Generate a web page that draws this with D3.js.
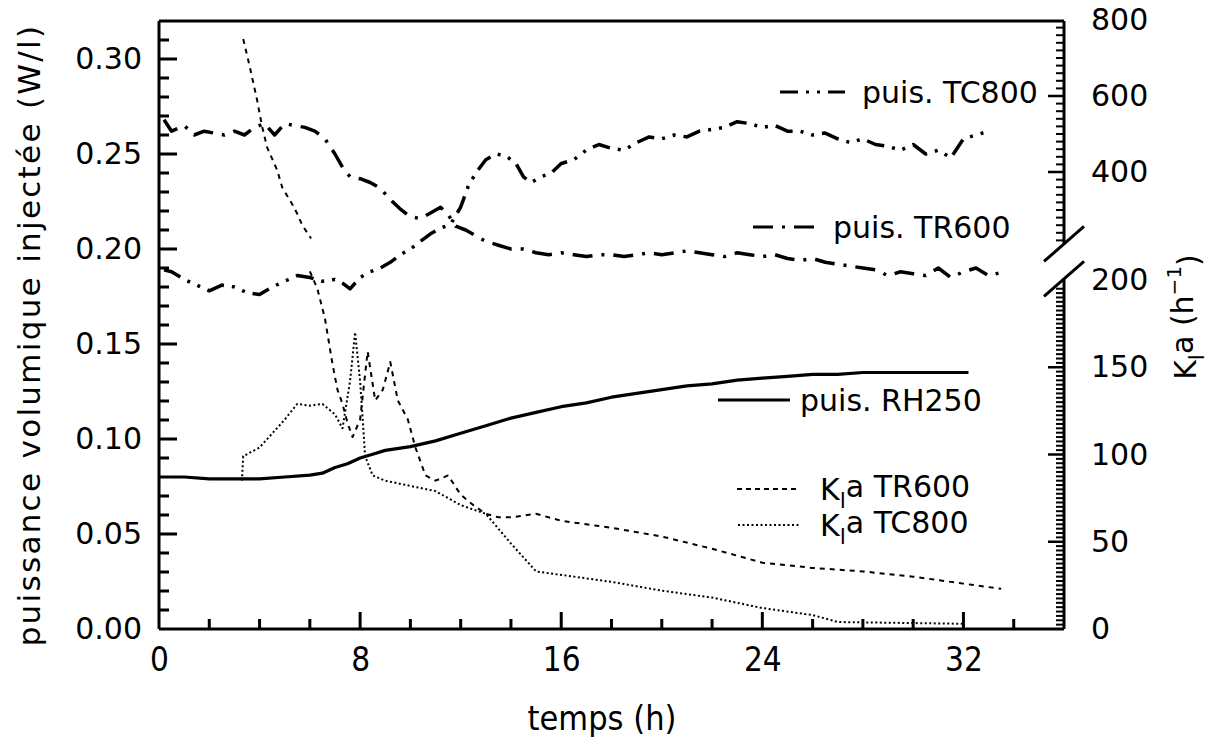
<!DOCTYPE html>
<html><head><meta charset="utf-8">
<script src="https://cdn.jsdelivr.net/npm/d3@7"></script>
<style>
html,body{margin:0;padding:0;background:#fff;}
svg text{font-family:"DejaVu Sans",sans-serif;fill:#000;}
</style></head>
<body><svg id="c" width="1214" height="744" xmlns="http://www.w3.org/2000/svg"></svg>
<script>
// ---------- data ----------
const xTicksMajor = [0, 8, 16, 24, 32];
const leftTicks = [0, 0.05, 0.10, 0.15, 0.20, 0.25, 0.30];
const rightTicksLow = [0, 50, 100, 150, 200];
const rightTicksHigh = [400, 600, 800];

// puissance volumique (W/l) vs temps (h)
const tTR600 = [0.2,0.5,1.0,1.4,1.8,2.2,2.6,3.0,3.4,3.8,4.2,4.6,5.0,5.4,5.8,6.2,6.6,7.0,7.3,7.6,8.0,8.4,8.8,9.2,9.6,10.0,10.4,10.8,11.2,11.5,11.8,12.2,12.6,13.0,13.5,14.0,14.5,15.0,15.5,16.0,16.5,17.0,17.5,18.0,18.5,19.0,19.5,20,20.5,21,21.5,22,22.5,23,23.5,24,24.5,25,25.5,26,26.5,27,27.5,28,28.5,29,29.5,30,30.5,31,31.5,32,32.5,33,33.6];
const pTR600 = [0.268,0.262,0.265,0.260,0.262,0.261,0.260,0.262,0.260,0.264,0.266,0.260,0.266,0.265,0.264,0.262,0.258,0.250,0.243,0.238,0.237,0.235,0.232,0.226,0.221,0.217,0.216,0.219,0.222,0.218,0.212,0.210,0.207,0.204,0.202,0.200,0.200,0.198,0.197,0.198,0.197,0.196,0.197,0.197,0.196,0.197,0.198,0.197,0.198,0.199,0.198,0.197,0.196,0.198,0.197,0.196,0.197,0.195,0.194,0.195,0.193,0.192,0.191,0.190,0.189,0.186,0.188,0.187,0.186,0.190,0.185,0.188,0.190,0.186,0.188];

const tTC800 = [0.2,0.5,1.0,1.5,2.0,2.5,3.0,3.5,4.0,4.5,5.0,5.5,6.0,6.5,7.0,7.3,7.6,8.0,8.4,8.8,9.2,9.6,10.0,10.4,10.8,11.2,11.6,12.0,12.3,12.6,13.0,13.4,13.8,14.2,14.5,14.8,15.2,15.6,16.0,16.5,17.0,17.5,18.0,18.5,19.0,19.5,20,20.5,21,21.5,22,22.5,23,23.5,24,24.5,25,25.5,26,26.5,27,27.5,28,28.5,29,29.5,30,30.5,31,31.5,32,32.5,33];
const pTC800 = [0.189,0.188,0.184,0.181,0.178,0.181,0.180,0.177,0.176,0.180,0.183,0.186,0.185,0.183,0.184,0.182,0.179,0.185,0.188,0.190,0.193,0.197,0.200,0.204,0.208,0.211,0.213,0.222,0.233,0.240,0.247,0.250,0.249,0.245,0.238,0.235,0.238,0.240,0.245,0.247,0.252,0.255,0.253,0.252,0.256,0.259,0.258,0.260,0.259,0.262,0.263,0.264,0.267,0.266,0.264,0.265,0.262,0.262,0.260,0.261,0.258,0.256,0.258,0.255,0.254,0.252,0.255,0.250,0.252,0.248,0.258,0.260,0.262];

const tRH250 = [0.4,1,2,3,4,5,6,6.5,7,7.5,8,8.5,9,10,11,12,13,14,15,16,17,18,19,20,21,22,23,24,25,26,27,28,29,30,31,32.2];
const pRH250 = [0.080,0.080,0.079,0.079,0.079,0.080,0.081,0.082,0.085,0.087,0.090,0.092,0.094,0.096,0.099,0.103,0.107,0.111,0.114,0.117,0.119,0.122,0.124,0.126,0.128,0.129,0.131,0.132,0.133,0.134,0.134,0.135,0.135,0.135,0.135,0.135];

// KLa (h-1) vs temps (h)
const tKlaTR600high = [3.35,3.6,3.9,4.1,4.3,4.7,4.9,5.3,5.5,5.7,6.05];
const kKlaTR600high = [750,680,590,520,465,405,360,315,290,260,225];
const tKlaTR600 = [6.0,6.3,6.6,6.9,7.1,7.3,7.5,7.7,8.0,8.3,8.6,8.9,9.2,9.5,9.9,10.2,10.6,11.0,11.5,12,12.5,13,13.5,14,15,16,18,20,22,24,26,28,30,32,33.5];
const kKlaTR600 = [205,195,178,152,137,129,118,110,120,159,131,137,153,131,120,104,88,85,88,77,71,66,64,64,66,62,58,53,46,38,35,33,30,26,23];
const tKlaTC800 = [3.3,3.35,4,5,5.5,6,6.5,7,7.3,7.6,7.8,8,8.2,8.5,9,10,11,12,13,14,15,16,18,20,22,24,26,27,32];
const kKlaTC800 = [85,99,104,120,129,128,129,123,115,142,170,142,99,88,85,82,79,71,66,49,33,31,27,22,18,12,8,4,3];

// ---------- drawing ----------
const svg = d3.select("#c");
const X0 = 159, X1 = 1064, Y0 = 629, Y1 = 21;
const x = d3.scaleLinear().domain([0, 36]).range([X0, X1]);
const yL = d3.scaleLinear().domain([0, 0.32]).range([Y0, Y1]);
const yR = d3.scaleLinear().domain([0, 200]).range([Y0, 280]);
const yU = d3.scaleLinear().domain([400, 800]).range([172, 20]);
const FS = 30;

function seg(x1, y1, x2, y2, w) {
  return svg.append("line").attr("x1", x1).attr("y1", y1).attr("x2", x2).attr("y2", y2)
    .attr("stroke", "#000").attr("stroke-width", w);
}
// tick marks as rect bars (filled), positioned by the scales
function bars(list, color) {
  svg.append("g").selectAll("rect").data(list).enter().append("rect")
    .attr("x", d => Math.min(d[0], d[2]) - (d[0] === d[2] ? d[4] / 2 : 0))
    .attr("y", d => Math.min(d[1], d[3]) - (d[1] === d[3] ? d[4] / 2 : 0))
    .attr("width", d => d[0] === d[2] ? d[4] : Math.abs(d[2] - d[0]))
    .attr("height", d => d[1] === d[3] ? d[4] : Math.abs(d[3] - d[1]))
    .attr("fill", color);
}

// frame
seg(X0, Y1, X1, Y1, 3);
seg(X0, Y0, X1, Y0, 3);
seg(X0, Y1, X0, Y0, 3);
const lowTop = yR(201), highBot = yU(212);
seg(X1, Y0, X1, lowTop, 3);
seg(X1, Y1, X1, highBot, 3);
[lowTop, highBot].forEach(yy => seg(X1 - 20, yy + 18, X1 + 20, yy - 17, 3));

// ticks
const bottomMinor = d3.range(2, 36, 2).filter(d => d % 8 !== 0).map(d => [x(d), Y0, x(d), Y0 - 10, 3]);
const bottomMajor = xTicksMajor.filter(d => d > 0).map(d => [x(d), Y0, x(d), Y0 - 17, 3]);
const leftMinor = d3.range(1, 32).filter(i => i % 5 !== 0).map(i => [X0, yL(i / 100), X0 + 10, yL(i / 100), 3]);
const leftMajor = leftTicks.filter(d => d > 0).map(d => [X0, yL(d), X0 + 18, yL(d), 3]);
const rightLowMinor = d3.range(1, 79).filter(i => i % 20 !== 0).map(i => [X1, yR(i * 2.5), X1 - 8, yR(i * 2.5), 2]);
const rightLowMajor = rightTicksLow.filter(d => d > 0 && d < 200).map(d => [X1, yR(d), X1 - 16, yR(d), 2.5]);
const rightHighMinor = d3.range(11, 40).filter(i => i % 10 !== 0).map(i => [X1, yU(i * 20), X1 - 8, yU(i * 20), 2]);
const rightHighMajor = rightTicksHigh.filter(d => d < 800).map(d => [X1, yU(d), X1 - 16, yU(d), 2.5]);
bars(bottomMinor.concat(bottomMajor, leftMinor, leftMajor, rightLowMinor, rightLowMajor, rightHighMinor, rightHighMajor), "#000");

// tick labels via d3 axes (lines removed)
function labelsOnly(g) {
  g.select(".domain").remove();
  g.selectAll(".tick line").remove();
  g.selectAll("text").attr("font-size", FS).attr("font-family", "DejaVu Sans, sans-serif").attr("fill", "#000");
}
svg.append("g").attr("transform", `translate(0,${Y0})`)
  .call(d3.axisBottom(x).tickValues(xTicksMajor).tickSize(0).tickPadding(19).tickFormat(d3.format("d")))
  .call(labelsOnly)
  .call(g => g.selectAll("text").attr("font-family", "DejaVu Sans Condensed, DejaVu Sans, sans-serif").attr("font-stretch", "condensed").attr("font-size", 33));
svg.append("g").attr("transform", `translate(${X0},0)`)
  .call(d3.axisLeft(yL).tickValues(leftTicks).tickSize(0).tickPadding(17).tickFormat(d3.format(".2f")))
  .call(labelsOnly);
svg.append("g").attr("transform", `translate(${X1},0)`)
  .call(d3.axisRight(yR).tickValues(rightTicksLow).tickSize(0).tickPadding(27).tickFormat(d3.format("d")))
  .call(labelsOnly);
svg.append("g").attr("transform", `translate(${X1},0)`)
  .call(d3.axisRight(yU).tickValues(rightTicksHigh).tickSize(0).tickPadding(27).tickFormat(d3.format("d")))
  .call(labelsOnly);

// series
const lineL = d3.line().x(d => x(d[0])).y(d => yL(d[1]));
const lineR = d3.line().x(d => x(d[0])).y(d => yR(d[1]));
const lineU = d3.line().x(d => x(d[0])).y(d => yU(d[1]));
const zip = (a, b) => a.map((v, i) => [v, b[i]]);
function draw(gen, data, dash, w) {
  svg.append("path").datum(data).attr("d", gen).attr("fill", "none").attr("stroke", "#000")
    .attr("stroke-width", w).attr("stroke-dasharray", dash).attr("stroke-linejoin", "round");
}
draw(lineL, zip(tTR600, pTR600), "20,9,3,9", 3.5);
draw(lineL, zip(tTC800, pTC800), "18,8,3,8,3,8", 3.5);
draw(lineL, zip(tRH250, pRH250), null, 3.2);
draw(lineU, zip(tKlaTR600high, kKlaTR600high), "5,5", 2);
draw(lineR, zip(tKlaTR600, kKlaTR600), "5,5", 2);
draw(lineR, zip(tKlaTC800, kKlaTC800), "2,2.5", 2);

// legends
function legend(x1, x2, y, dash, w, tx, label) {
  seg(x1, y, x2, y, w).attr("stroke-dasharray", dash);
  const t = svg.append("text").attr("x", tx).attr("y", y).attr("dy", "0.36em").attr("font-size", FS);
  label(t);
}
legend(780, 845, 92, "18,8,3,8,3,8", 3, 862, t => t.text("puis. TC800"));
legend(753, 817, 227, "20,9,3,9", 3, 833, t => t.text("puis. TR600"));
legend(718, 790, 400, null, 3, 800, t => t.text("puis. RH250"));
function klaLabel(t, name) {
  t.append("tspan").text("K");
  t.append("tspan").attr("font-size", 22).attr("dy", "0.35em").text("l");
  t.append("tspan").attr("dy", "-0.35em").text("a  " + name);
}
legend(737, 800, 489, "5,4", 2, 820, t => klaLabel(t, "TR600"));
legend(738, 800, 525, "2,2.5", 2, 820, t => klaLabel(t, "TC800"));

// axis titles
svg.append("text").attr("transform", `translate(40,335) rotate(-90)`)
  .attr("text-anchor", "middle").attr("font-size", 31).attr("letter-spacing", 2.3).text("puissance volumique injectée (W/l)");
svg.append("text").attr("x", 602).attr("y", 730).attr("text-anchor", "middle")
  .attr("font-size", 34).attr("font-family", "DejaVu Sans Condensed, DejaVu Sans, sans-serif").attr("font-stretch", "condensed")
  .text("temps (h)");
const rt = svg.append("text").attr("transform", `translate(1196,317) rotate(-90)`).attr("text-anchor", "middle").attr("font-size", 30);
rt.append("tspan").text("K");
rt.append("tspan").attr("font-size", 22).attr("dy", "0.35em").text("l");
rt.append("tspan").attr("dy", "-0.35em").text("a (h");
rt.append("tspan").attr("font-size", 20).attr("dy", "-0.6em").text("−1");
rt.append("tspan").attr("dy", "0.6em").text(")");
</script></body></html>
